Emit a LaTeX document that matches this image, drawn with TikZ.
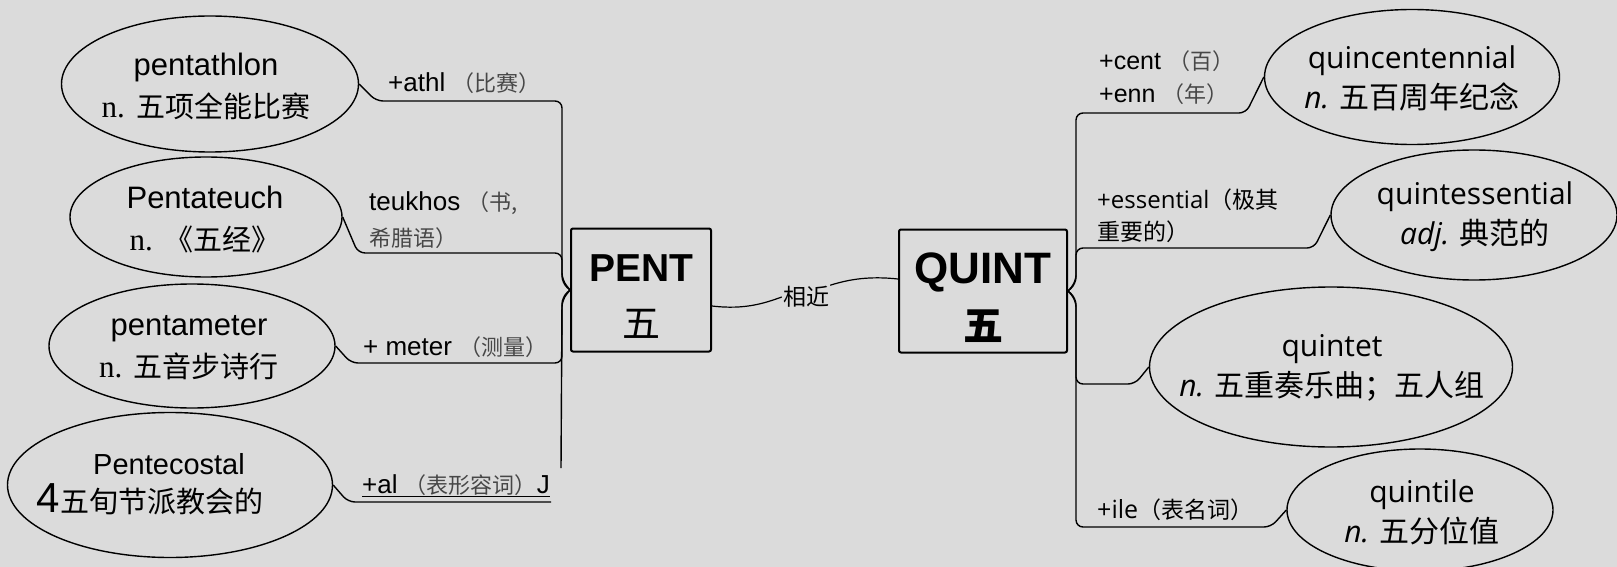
\documentclass[tikz,border=0pt]{standalone}
\usepackage{fontspec}
\setmainfont{Liberation Sans}
\newfontfamily\cjk{Noto Sans CJK SC}
\newfontfamily\osans{Open Sans}
\newfontfamily\nserif{Liberation Serif}
\usetikzlibrary{shapes.geometric}
\definecolor{paper}{HTML}{DBDBDB}
\definecolor{inkgray}{HTML}{474747}
\newcommand{\fsz}[2]{\fontsize{#1}{#2}\selectfont}
\newcommand{\zh}[2][29]{{\cjk\fontsize{#1}{#1}\selectfont #2}}
\newcommand{\gz}[1]{\textcolor{inkgray}{\zh[22]{#1}}}

\begin{document}
\begin{tikzpicture}[
  x=1pt, y=-1pt,
  word/.style={ellipse, draw, line width=1.4pt, inner sep=0pt},
  lword/.style={align=center, inner sep=0pt, font=\fsz{31}{42}},
  rword/.style={align=center, inner sep=0pt, font=\osans\fsz{30}{40}},
  root/.style={draw, line width=2pt, rounded corners=2pt, inner sep=0pt, align=center},
  tag/.style={anchor=west, inner sep=0pt, align=left},
  branch/.style={line width=1.4pt, rounded corners=7pt},
  link/.style={line width=1.2pt}
]
  \fill[paper] (0,0) rectangle (1617,567);
  \useasboundingbox (0,0) rectangle (1617,567);

  \node[root, minimum width=140pt, minimum height=123pt, font=\bfseries\fsz{39}{56}] (pent) at (641,290) {\rule{0pt}{40pt}PENT\\\zh[38]{\mdseries 五}};
  \node[root, minimum width=168pt, minimum height=123pt, font=\bfseries\fsz{44}{57}] (quint) at (983,291) {\rule{0pt}{44pt}QUINT\\\zh[40]{五}};
  \node[inner sep=1pt] (near) at (806,297) {\zh[23]{相近}};

  \node[word, minimum width=297pt, minimum height=136pt] (athlon) at (210,84) {};
  \node[word, minimum width=272pt, minimum height=120pt] (teuch) at (206,217) {};
  \node[word, minimum width=286pt, minimum height=124pt] (meter) at (192,346) {};
  \node[word, minimum width=325pt, minimum height=145pt] (costal) at (170,485) {};
  \node[lword] (athlonT) at (206,86) {pentathlon\\{\nserif n.} \zh{五项全能比赛}};
  \node[lword] (teuchT) at (205,220) {Pentateuch\\{\nserif n.} \zh{《五经》}};
  \node[lword] (meterT) at (189,348) {pentameter\\{\nserif n.} \zh{五音步诗行}};
  \node[lword, font=\fsz{29}{38}] (costalT) at (169,484) {Pentecostal\\{\fsz{42}{42}4}\zh{五旬节派教会的}\hspace*{38pt}};

  \node[word, minimum width=295pt, minimum height=135pt] (cent) at (1412,77) {};
  \node[word, minimum width=286pt, minimum height=130pt] (ess) at (1474,215) {};
  \node[word, minimum width=363pt, minimum height=160pt] (tet) at (1331,367) {};
  \node[word, minimum width=266pt, minimum height=122pt] (tile) at (1420,510) {};
  \node[rword] (centT) at (1412,78) {quincentennial\\{\itshape n.} \zh[30]{五百周年纪念}};
  \node[rword] (essT) at (1475,217) {quintessential\\{\itshape adj.} \zh[30]{典范的}};
  \node[rword] (tetT) at (1332,368) {quintet\\{\itshape n.} \zh[30]{五重奏乐曲；五人组}};
  \node[rword] (tileT) at (1422,512) {quintile\\{\itshape n.} \zh[30]{五分位值}};

  \node[tag, font=\fsz{26}{36}] (athllab) at (388,83) {+athl \gz{（比赛）}};
  \node[tag, font=\fsz{26}{36}] (teuklab) at (369,220) {teukhos \gz{（书,}\\\gz{希腊语）}};
  \node[tag, font=\fsz{26}{36}] (meterlab) at (363,347) {+ meter \gz{（测量）}};
  \node[tag, font=\fsz{26}{36}] (allab) at (362,485) {+al \gz{（表形容词）}J};
  \node[tag, font=\fsz{25}{33}] (centlab) at (1099,78) {+cent \gz{（百）}\\+enn \gz{（年）}};
  \node[tag, font=\osans\fsz{24}{32}] (esslab) at (1097,216) {+essential\zh[23]{（极其}\\\zh[23]{重要的）}};
  \node[tag, font=\osans\fsz{25}{32}] (ilelab) at (1097,510) {+ile\zh[23]{（表名词）}};

  \coordinate (trunkend) at (561,468);
  \coordinate (alend) at (551,502);

  \draw[branch] (pent.west) -- (562,280) -- (562,101) -- (376,101) -- (athlon.east);
  \draw[branch] (pent.west) -- (562,283) -- (562,253) -- (358,253) -- (teuch.east);
  \draw[branch] (pent.west) -- (562,297) -- (562,363) -- (351,363) -- (meter.east);
  \draw[branch] (pent.west) -- (562,300) -- (trunkend);
  \draw[branch] (costal.east) -- (348,502) -- (alend);
  \draw[line width=1.3pt] ([yshift=-3pt]allab.base west) -- ([yshift=-3pt]allab.base east);

  \draw[branch] (quint.east) -- (1076,282) -- (1076,113) -- (1246,113) -- (cent.west);
  \draw[branch] (quint.east) -- (1076,284) -- (1076,248) -- (1314,248) -- (ess.west);
  \draw[branch] (quint.east) -- (1076,298) -- (1076,384) -- (1135,384) -- (tet.west);
  \draw[branch] (quint.east) -- (1076,300) -- (1076,527) -- (1271,527) -- (tile.west);

  \draw[link] ([yshift=-16pt]pent.east) .. controls (745,310) and (765,303) .. (near.west);
  \draw[link] (near.north east) .. controls (850,279) and (870,276) .. ([yshift=12pt]quint.west);
\end{tikzpicture}
\end{document}
